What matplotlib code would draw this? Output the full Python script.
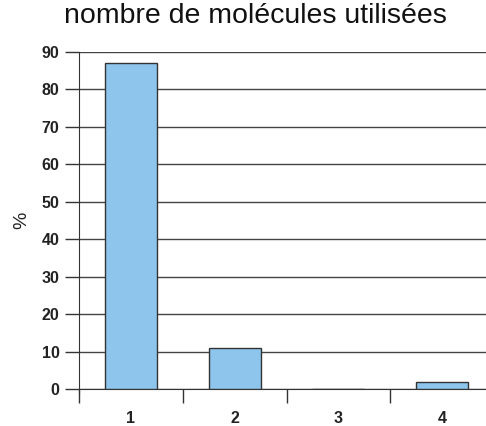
import matplotlib.pyplot as plt
import numpy as np

# data
categories = ['1', '2', '3', '4']
values = [87.0, 11.0, 0.0, 1.8]
yticks = [0, 10, 20, 30, 40, 50, 60, 70, 80, 90]

plt.rcParams['font.family'] = ['Liberation Sans', 'DejaVu Sans']

fig = plt.figure(figsize=(4.86, 4.26), dpi=100)
# axes run past the right edge of the picture, as in the scan
ax = fig.add_axes([79 / 486, 1 - 389 / 426, 415 / 486, 337 / 426])

x = np.arange(len(categories))
ax.set_axisbelow(True)
ax.yaxis.grid(True, color='#444444', linewidth=1)
ax.bar(x, values, width=0.5, color='#8EC5EC', edgecolor='#333333', linewidth=1, zorder=3)

ax.set_xlim(-0.5, len(categories) - 0.5)
ax.set_ylim(0, 90)
ax.set_yticks(yticks)
ax.set_yticklabels([str(t) for t in yticks], fontsize=11.5, fontweight='bold', color='#222222')

# category ticks sit on the boundaries, labels in the middle
ax.set_xticks(np.arange(len(categories) + 1) - 0.5)
ax.set_xticklabels([])
ax.set_xticks(x, minor=True)
ax.set_xticklabels(categories, minor=True, fontsize=11.5, fontweight='bold', color='#222222')
ax.tick_params(axis='x', which='minor', length=0, pad=16)
ax.tick_params(axis='x', which='major', length=10, width=1, color='#333333')
ax.tick_params(axis='y', length=10, width=1, color='#333333', pad=4)

for s in ['top', 'right']:
    ax.spines[s].set_visible(False)
ax.spines['left'].set_color('#333333')
ax.spines['bottom'].set_color('#333333')
ax.spines['left'].set_bounds(-1.0, 90)

ax.set_ylabel('%', fontsize=14, color='#222222', labelpad=8)
ax.set_title('nombre de molécules utilisées', fontsize=20.5, color='#111111', pad=0,
             x=(255 - 79) / 415, y=1.086)

fig.savefig('out.png', dpi=100)
